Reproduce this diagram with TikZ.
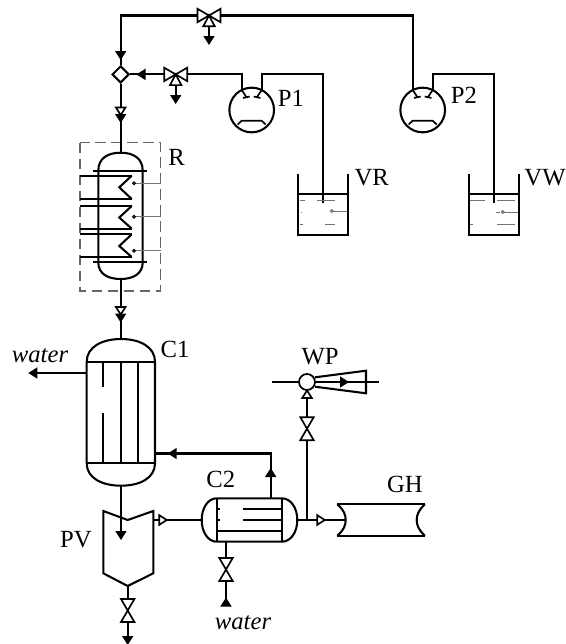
\documentclass[tikz,border=0pt]{standalone}
\usepackage{fontspec}
\setmainfont{Liberation Serif}
\usetikzlibrary{shapes.geometric}
\tikzset{
    % Lines
    pipe/.style={line width=1.55pt,line join=miter},
    thin pipe/.style={line width=1.25pt},
    coil/.style={line width=1.7pt},
    probe/.style={line width=.75pt,color=black!55},
    frame box/.style={line width=.85pt,color=black!60,dash pattern=on 8pt off 4pt},
    %
    % Nodes
    pump body/.style={circle,draw,line width=1.55pt,fill=white,inner sep=0pt,minimum size=33.5pt},
    mix node/.style={diamond,draw,line width=1.55pt,fill=white,inner sep=0pt,minimum size=12.8pt},
    ejector body/.style={circle,draw,line width=1.3pt,fill=white,inner sep=0pt,minimum size=12pt},
    plain label/.style={inner sep=0pt},
    italic label/.style={inner sep=0pt,font=\fontsize{18.5}{20}\selectfont\itshape},
    %
    % Pieces
    solid head/.pic={\fill (0,-5.7) -- (9,0) -- (0,5.7) -- cycle;},
    open head/.pic={\draw[thin pipe,fill=white] (0,-4.8) -- (7.5,0) -- (0,4.8) -- cycle;},
    valve/.pic={
        \draw[thin pipe,fill=white] (-11.5,-6.7) -- (-11.5,6.7) -- (0,0) -- cycle;
        \draw[thin pipe,fill=white] (11.5,-6.7) -- (11.5,6.7) -- (0,0) -- cycle;
    },
    three way/.pic={
        \draw[thin pipe,fill=white] (-11.5,-6.7) -- (-11.5,6.7) -- (0,0) -- cycle;
        \draw[thin pipe,fill=white] (11.5,-6.7) -- (11.5,6.7) -- (0,0) -- cycle;
        \draw[thin pipe,fill=white] (-5.7,10.7) -- (5.7,10.7) -- (0,0) -- cycle;
    },
    pump inside/.pic={
        \draw[thin pipe] (-10,-20) -- (-5,-12.5) (-8.7,-12) -- (-2,-13.5);
        \draw[thin pipe] (10,-20) -- (5,-12.5) (8.7,-12) -- (2,-13.5);
        \draw[thin pipe] (-14,14.5) -- (-10,10.7) -- (10,10.7) -- (14,14.5);
    }
}
\tikzstyle{every node}=[font=\fontsize{18.5}{20}\selectfont]

\begin{document}
\begin{tikzpicture}[x=.75pt,y=-.75pt]
    \useasboundingbox (0,0) rectangle (566,644);

    % Nodes of the upper part
    \node[mix node] (mix) at (120.7,74.4) {};
    \node[pump body] (P1 body) at (251.7,110) {};
    \node[pump body] (P2 body) at (422.7,110) {};
    \coordinate (corner) at (120.7,15.5);
    \coordinate (P1 in) at (241.7,90.5);
    \coordinate (P1 out) at (261.7,90.5);
    \coordinate (P2 in) at (412.7,90.5);
    \coordinate (P2 out) at (432.7,90.5);
    \coordinate (VR dip) at (322.7,203.3);
    \coordinate (VW dip) at (493.7,203.3);

    % Pipes of the upper part
    \draw[pipe] (mix.north) -- (corner) -- (412.7,15.5) -- (P2 in);
    \draw[pipe] (mix.east) -- (241.7,74.4) -- (P1 in);
    \draw[pipe] (P1 out) -- (261.7,74.4) -- (322.7,74.4) -- (VR dip);
    \draw[pipe] (P2 out) -- (432.7,74.4) -- (493.7,74.4) -- (VW dip);
    \draw[pipe] (209,15.5) -- (209,37);
    \draw[pipe] (175.7,74.4) -- (175.7,96);
    \pic at (209,15.5) {three way};
    \pic at (175.7,74.4) {three way};
    \pic[rotate=-90] at (209,36) {solid head};
    \pic[rotate=-90] at (175.7,95) {solid head};
    \pic[rotate=-90] at (120.7,51) {solid head};
    \pic[rotate=180] at (145.5,74.4) {solid head};
    \pic at (251.7,110) {pump inside};
    \pic at (422.7,110) {pump inside};

    % Tanks
    \draw[pipe] (298.3,174.3) -- (298.3,235) -- (347.7,235) -- (347.7,174.3);
    \draw[pipe] (298.3,194.3) -- (347.7,194.3);
    \draw[pipe] (469.3,174.3) -- (469.3,235) -- (518.7,235) -- (518.7,174.3);
    \draw[pipe] (469.3,194.3) -- (518.7,194.3);
    \draw[probe] (300,200) -- (305,200) (317,200) -- (335,200) (301,212) -- (302,212) (332,211) -- (347,211) (300,224) -- (303,224) (325,224) -- (335,224);
    \draw[probe] (331.7,211) circle (1.4);
    \draw[probe] (470,200) -- (485,200) (497,200) -- (515,200) (496,212) -- (500,212) (504,212) -- (518,212) (470,224) -- (473,224) (497,224) -- (515,224);
    \draw[probe] (502.7,212) circle (1.4);

    % Reactor
    \draw[frame box] (80,142.7) rectangle (160.7,291);
    \coordinate (R top) at (120.7,152.7);
    \coordinate (R bottom) at (120.7,279);
    \draw[pipe] (mix.south) -- (R top);
    \draw[pipe] (R bottom) -- (120.7,339);
    \draw[pipe] (98.3,170.7) .. controls (98.3,158) and (108,152.7) .. (R top) .. controls (133,152.7) and (142.7,158) .. (142.7,170.7) -- (142.7,262.3) .. controls (142.7,274) and (133,279) .. (R bottom) .. controls (108,279) and (98.3,274) .. (98.3,262.3) -- cycle;
    \draw[coil] (93,170.7) -- (147.3,170.7);
    \draw[coil] (93,262.3) -- (147.3,262.3);
    \draw[coil] (80,175.7) -- (131.7,175.7);
    \draw[pipe] (131.7,175.7) -- (119.3,187.3) -- (131.7,199);
    \draw[coil] (131.7,199) -- (80,199);
    \draw[coil] (80,206) -- (131.7,206);
    \draw[pipe] (131.7,206) -- (119.3,217.5) -- (131.7,228.7);
    \draw[coil] (131.7,228.7) -- (80,228.7);
    \draw[coil] (80,234.3) -- (131.7,234.3);
    \draw[pipe] (131.7,234.3) -- (119.3,246) -- (131.7,257);
    \draw[coil] (131.7,257) -- (80,257);
    \foreach \yy in {183.3,216.7,250.7} {
        \draw[probe] (135.4,\yy) -- (160.7,\yy);
        \draw[probe,color=black] (134,\yy) circle (1.4);
    }
    \pic[rotate=-90] at (120.7,107.5) {open head};
    \pic[rotate=-90] at (120.7,114) {solid head};
    \pic[rotate=-90] at (120.7,307) {open head};
    \pic[rotate=-90] at (120.7,313.5) {solid head};

    % Condenser C1
    \coordinate (C1 bottom) at (121,485.7);
    \draw[pipe] (86.7,361.7) .. controls (86.7,347) and (102,339) .. (121,339) .. controls (140,339) and (155,347) .. (155,361.7) -- (155,463.3) .. controls (155,478) and (140,485.7) .. (C1 bottom) .. controls (102,485.7) and (86.7,478) .. (86.7,463.3) -- cycle;
    \draw[pipe] (86.7,361.7) -- (155,361.7) (86.7,463.3) -- (155,463.3);
    \draw[pipe] (103.3,361.7) -- (103.3,386.7) (103.3,413.3) -- (103.3,463.3);
    \draw[pipe] (121,361.7) -- (121,463.3) (138.3,361.7) -- (138.3,463.3);
    \coordinate (water end) at (37,373);
    \draw[pipe] (86.7,373) -- (water end);
    \pic[rotate=180] at (37.3,373) {solid head};

    % Phase vessel
    \draw[pipe] (103.3,511) -- (127.7,520) -- (153.3,511) -- (153.3,573.3) -- (127.7,586) -- (103.3,573.3) -- cycle;
    \draw[pipe] (C1 bottom) -- (121,532);
    \pic[rotate=-90] at (121,531) {solid head};
    \draw[pipe] (127.7,586) -- (127.7,638.5);
    \pic[rotate=-90] at (127.7,610.5) {valve};
    \pic[rotate=-90] at (127.7,636) {solid head};

    % Condenser C2
    \coordinate (C2 left) at (201.7,520);
    \coordinate (C2 right) at (297.3,520);
    \draw[pipe] (216.7,498.3) -- (281.7,498.3) .. controls (291,498.3) and (297.3,508) .. (C2 right) .. controls (297.3,532) and (291,541.7) .. (281.7,541.7) -- (216.7,541.7) .. controls (208,541.7) and (201.7,532) .. (C2 left) .. controls (201.7,508) and (208,498.3) .. cycle;
    \draw[pipe] (216.7,498.3) -- (216.7,541.7) (281.7,498.3) -- (281.7,541.7);
    \draw[pipe] (243.3,509.3) -- (281.7,509.3) (243.3,520) -- (281.7,520) (216.7,531) -- (281.7,531);
    \draw[thin pipe] (216.7,509.3) -- (220,509.3) (216.7,520) -- (220,520);
    \draw[pipe] (153.3,520) -- (C2 left);
    \pic at (159.3,520) {open head};
    \draw[pipe] (270.7,498.3) -- (270.7,453.5) -- (155,453.5);
    \pic[rotate=90] at (270.7,477) {solid head};
    \pic[rotate=180] at (176.7,453.5) {solid head};
    \draw[pipe] (226,541.7) -- (226,600);
    \pic[rotate=-90] at (226,569.5) {valve};
    \pic[rotate=90] at (226,606.5) {solid head};

    % Gas holder and ejector
    \coordinate (GH in) at (345.7,520);
    \draw[pipe] (C2 right) -- (GH in);
    \pic at (317.3,520) {open head};
    \draw[pipe] (337.3,504.3) -- (425,504.3) (337.3,535.7) -- (425,535.7);
    \draw[pipe] (337.3,504.3) .. controls (344,510) and (345.7,515) .. (GH in) .. controls (345.7,525) and (344,530) .. (337.3,535.7);
    \draw[pipe] (425,504.3) .. controls (418.5,510) and (416.7,515) .. (416.7,520) .. controls (416.7,525) and (418.5,530) .. (425,535.7);
    \node[ejector body] (WP body) at (307,382) {};
    \draw[pipe] (307,520) -- (WP body.south);
    \pic[rotate=-90] at (307,428.7) {valve};
    \pic[rotate=90] at (307,398) {open head};
    \draw[thin pipe] (272.3,382) -- (WP body.west) (WP body.east) -- (379.3,382);
    \draw[pipe] (315,377.3) -- (366,370.7) -- (366,393.3) -- (315,386.7);
    \pic at (340,382) {solid head};

    % Labels
    \node[plain label] (label P1) at (291,98) {P1};
    \node[plain label] (label P2) at (464,95) {P2};
    \node[plain label] (label R) at (176.7,157) {R};
    \node[plain label] (label VR) at (371.7,178) {VR};
    \node[plain label] (label VW) at (545,178) {VW};
    \node[plain label] (label C1) at (175,349) {C1};
    \node[plain label] (label PV) at (76,540) {PV};
    \node[plain label] (label C2) at (220.7,479.3) {C2};
    \node[plain label] (label GH) at (405,484) {GH};
    \node[plain label] (label WP) at (320,357) {WP};
    \node[italic label] (water out) at (40,356) {water};
    \node[italic label] (water in) at (243,622.7) {water};
\end{tikzpicture}
\end{document}
